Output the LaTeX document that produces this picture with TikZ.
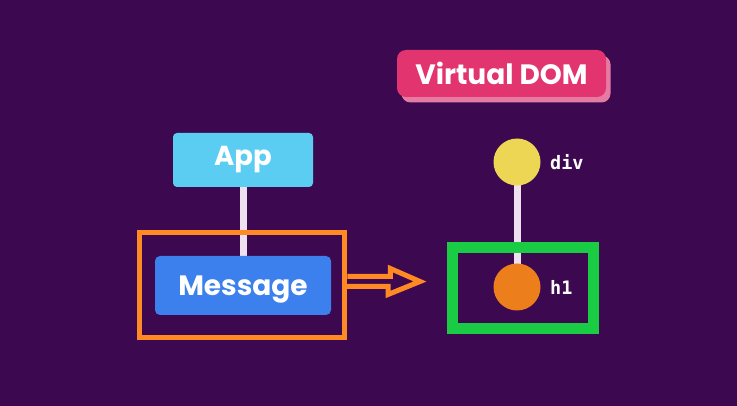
\documentclass[tikz,border=0pt]{standalone}
\usepackage{fontspec}
\setmainfont{Poppins}
\newfontfamily\monof{DejaVu Sans Mono}
\definecolor{bgc}{RGB}{60,9,80}
\definecolor{vdom}{RGB}{226,52,110}
\definecolor{vdomsh}{RGB}{229,123,163}
\definecolor{appc}{RGB}{91,205,242}
\definecolor{msgc}{RGB}{59,128,236}
\definecolor{orng}{RGB}{255,138,36}
\definecolor{grn}{RGB}{25,204,68}
\definecolor{yel}{RGB}{236,214,83}
\definecolor{orc}{RGB}{236,127,28}
\definecolor{linec}{RGB}{238,224,238}
\tikzset{
  box/.style={rectangle, rounded corners=4pt, inner sep=0pt, text=white, font=\bfseries\fontsize{28}{32}\selectfont},
  dot/.style={circle, minimum size=47pt, inner sep=0pt},
  tag/.style={anchor=west, inner sep=0pt, text=white, font=\monof\bfseries\fontsize{18.5}{20}\selectfont},
  link/.style={draw=linec, line width=7pt},
  hilite/.style={rectangle, inner sep=0pt, draw=orng, line width=5pt, fill=none},
}
\begin{document}
\begin{tikzpicture}[x=1pt,y=-1pt]
\fill[bgc] (0,0) rectangle (737,406);
\useasboundingbox (0,0) rectangle (737,406);
% Virtual DOM label
\node[box, rounded corners=9pt, fill=vdomsh, minimum width=209pt, minimum height=47pt] (vshadow) at (506,79) {};
\node[box, rounded corners=9pt, fill=vdom, minimum width=209pt, minimum height=47pt] (vdom) at (501.5,73.5) {Virtual DOM};
% component tree
\coordinate (appc) at (243,160);
\coordinate (msgc) at (243,285.5);
\draw[link] ([xshift=0.5pt]appc) -- ([xshift=0.5pt]msgc);
\node[box, fill=appc, minimum width=140pt, minimum height=54pt, font=\bfseries\fontsize{27.5}{32}\selectfont] (app) at (appc) {App};
\node[box, fill=msgc, minimum width=176pt, minimum height=59pt, rounded corners=5pt, text depth=0pt] (msg) at (msgc) {Message};
% highlight around Message
\node[hilite, minimum width=205pt, minimum height=104.8pt] (obox) at (242.3,285.1) {};
% virtual DOM tree
\coordinate (divc) at (517,162);
\coordinate (h1c) at (517,287);
\draw[link] (divc) -- (h1c);
\node[dot, fill=yel] (div) at (divc) {};
\node[dot, fill=orc] (h1) at (h1c) {};
\node[tag] (divt) at (550,162) {div};
\node[tag] (h1t) at (550,287) {h1};
% green highlight
\node[rectangle, inner sep=0pt, draw=grn, line width=11pt, minimum width=141pt, minimum height=81pt] (gbox) at (523,288) {};
% hollow arrow
\coordinate (as) at (obox.east |- 0,281.5);
\draw[draw=orng, line width=5pt, miter limit=10] (as) ++(0,-5) -- ++(43,0) -- ++(0,-8) -- (420,281.5) -- (388,294.5) -- ++(0,-8) -- ++(-43,0);
\end{tikzpicture}
\end{document}
